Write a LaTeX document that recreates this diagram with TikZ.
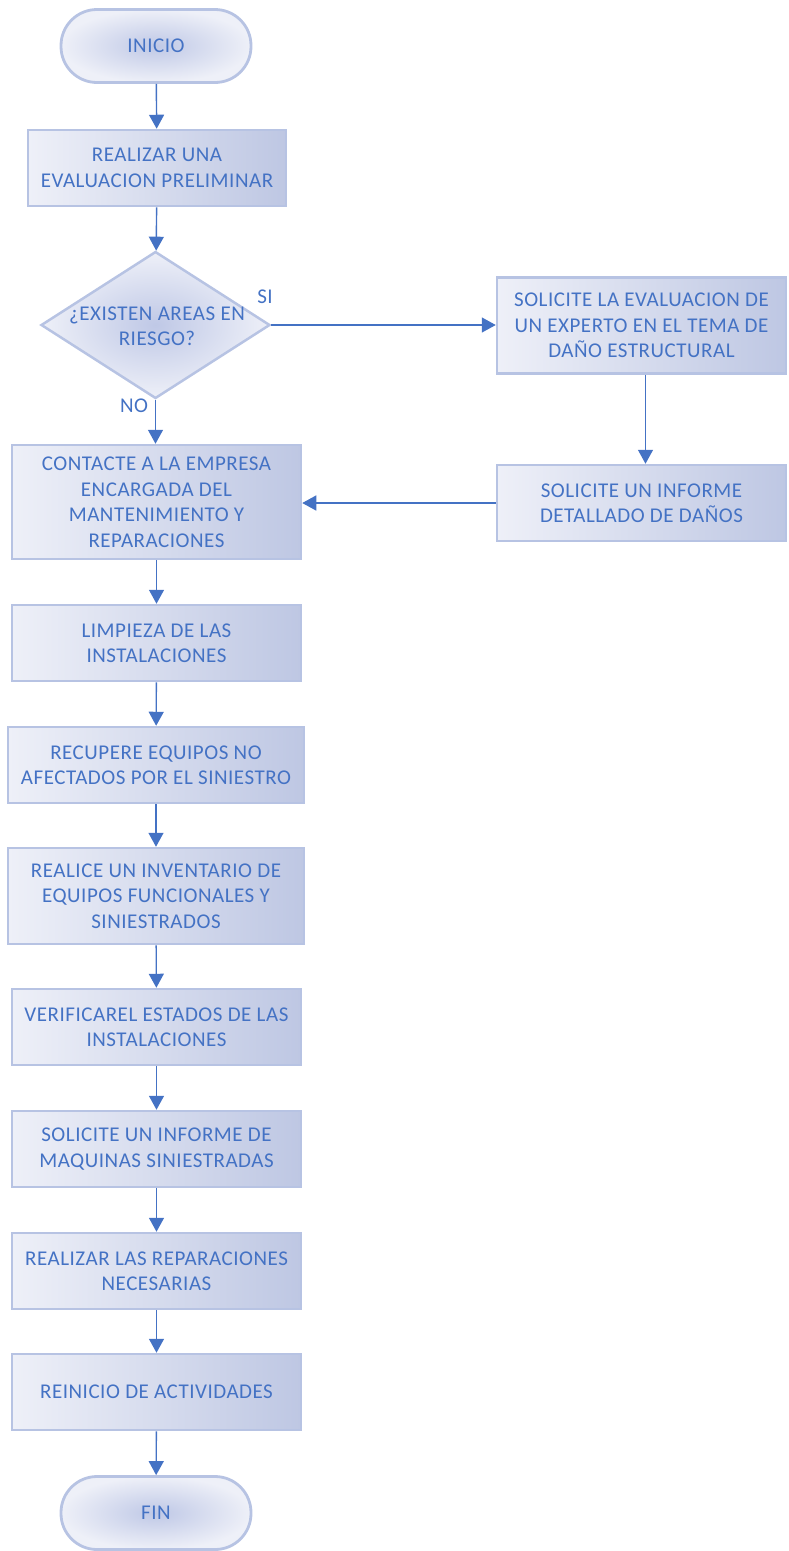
\documentclass[tikz,border=0pt]{standalone}
\usepackage{fontspec}
\setmainfont{Carlito}[LetterSpace=2.5]
\usetikzlibrary{shapes.geometric,arrows.meta}
\definecolor{ink}{HTML}{4472C4}
\definecolor{rim}{HTML}{B7C3E3}
\definecolor{paleL}{HTML}{EEF0F8}
\definecolor{paleR}{HTML}{BEC7E3}
\definecolor{core}{HTML}{BFC8E6}
\begin{document}
\begin{tikzpicture}[x=1pt,y=-1pt,
  txt/.style={text=ink,align=center,inner sep=0pt,font=\fontsize{21}{25.5}\selectfont},
  procbox/.style={txt,draw=rim,line width=2.5pt,left color=paleL,right color=paleR,
    minimum height=#1,minimum width=289},
  procbox/.default=76,
  termbox/.style={txt,draw=rim,line width=2.8pt,rounded corners=36,inner color=core,outer color=paleL,
    minimum width=190,minimum height=73},
  decbox/.style={diamond,draw=rim,line width=2.5pt,inner color=core,outer color=paleL,inner sep=0pt,
    minimum width=229,minimum height=147,aspect=1.55},
  flow/.style={draw=ink,line width=1.4pt,-{Triangle[width=15pt,length=14pt]}},
  lbl/.style={text=ink,inner sep=0pt,font=\fontsize{21}{24}\selectfont}]
\useasboundingbox (0,0) rectangle (788,1551);

% main column
\node[termbox] (start) at (156,46) {INICIO};
\node[procbox,minimum width=258] (eval) at (157,168) {REALIZAR UNA\\EVALUACION PRELIMINAR};
\node[decbox] (risk) at (155.5,325) {};
\node[txt] (risktxt) at (157,326) {¿EXISTEN AREAS EN\\RIESGO?};
\node[procbox=114] (contact) at (156.5,502) {CONTACTE A LA EMPRESA\\ENCARGADA DEL\\MANTENIMIENTO Y\\REPARACIONES};
\node[procbox] (clean) at (156.5,643) {LIMPIEZA DE LAS\\INSTALACIONES};
\node[procbox,minimum width=296] (recover) at (156,765) {RECUPERE EQUIPOS NO\\AFECTADOS POR EL SINIESTRO};
\node[procbox=96,minimum width=296] (inventory) at (156,896) {REALICE UN INVENTARIO DE\\EQUIPOS FUNCIONALES Y\\SINIESTRADOS};
\node[procbox] (verify) at (156.5,1027) {VERIFICAREL ESTADOS DE LAS\\INSTALACIONES};
\node[procbox] (report) at (156.5,1149) {SOLICITE UN INFORME DE\\MAQUINAS SINIESTRADAS};
\node[procbox] (repair) at (156.5,1271) {REALIZAR LAS REPARACIONES\\NECESARIAS};
\node[procbox] (restart) at (156.5,1392) {REINICIO DE ACTIVIDADES};
\node[termbox] (finish) at (156,1513) {FIN};

% side branch
\node[procbox=96] (expert) at (641.5,325.5) {SOLICITE LA EVALUACION DE\\UN EXPERTO EN EL TEMA DE\\DAÑO ESTRUCTURAL};
\node[procbox] (damage) at (641.5,503) {SOLICITE UN INFORME\\DETALLADO DE DAÑOS};

% connectors
\draw[flow] (start) -- (eval);
\draw[flow] (eval) -- (risk);
\draw[flow] (risk.east) -- (risk.east -| expert.west);
\draw[flow] (risk.south) -- (contact.north -| risk.south);
\draw[flow] ([xshift=4pt]expert.south) -- ([xshift=4pt]damage.north);
\draw[flow] (damage.west) -- (damage.west -| contact.east);
\draw[flow] (contact) -- (clean);
\draw[flow] (clean) -- (recover);
\draw[flow] (recover) -- (inventory);
\draw[flow] (inventory) -- (verify);
\draw[flow] (verify) -- (report);
\draw[flow] (report) -- (repair);
\draw[flow] (repair) -- (restart);
\draw[flow] (restart) -- (finish);

% branch labels
\node[lbl] (yes) at (265,297) {SI};
\node[lbl] (no) at (134,406) {NO};
\end{tikzpicture}
\end{document}
